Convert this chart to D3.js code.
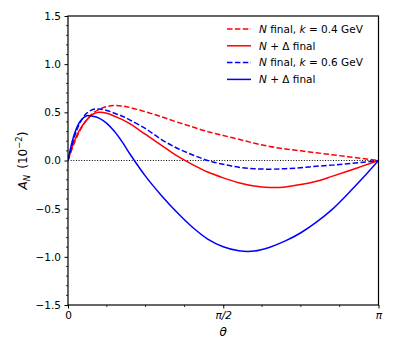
<!DOCTYPE html>
<html>
<head>
<meta charset="utf-8">
<script src="https://cdn.jsdelivr.net/npm/d3@7"></script>
<style>
  body { margin: 0; background: #fff; }
  text { font-family: "DejaVu Sans", sans-serif; }
</style>
</head>
<body>
<svg id="chart" width="395" height="355"></svg>
<script>
// theta as a fraction of pi
const thetaFrac = [0, 0.02, 0.04, 0.06, 0.08, 0.1, 0.125, 0.15, 0.175, 0.2, 0.25, 0.3, 0.35, 0.4, 0.45, 0.5, 0.55, 0.6, 0.65, 0.7, 0.75, 0.8, 0.85, 0.9, 0.95, 1]

const nFinal04 = [0, 0.18, 0.32, 0.42, 0.49, 0.53, 0.56, 0.57, 0.565, 0.55, 0.505, 0.455, 0.40, 0.35, 0.30, 0.26, 0.22, 0.18, 0.145, 0.12, 0.10, 0.08, 0.06, 0.04, 0.02, 0]
const nDelta04 = [0, 0.2, 0.33, 0.42, 0.48, 0.50, 0.49, 0.46, 0.425, 0.38, 0.27, 0.16, 0.05, -0.04, -0.12, -0.18, -0.23, -0.265, -0.28, -0.275, -0.25, -0.215, -0.165, -0.112, -0.056, 0]
const nFinal06 = [0, 0.24, 0.40, 0.49, 0.53, 0.535, 0.52, 0.49, 0.46, 0.42, 0.33, 0.22, 0.13, 0.06, 0.0, -0.04, -0.07, -0.085, -0.09, -0.085, -0.075, -0.06, -0.048, -0.035, -0.018, 0]
const nDelta06 = [0, 0.27, 0.41, 0.465, 0.46, 0.44, 0.385, 0.30, 0.19, 0.065, -0.165, -0.36, -0.535, -0.69, -0.815, -0.895, -0.937, -0.94, -0.9, -0.835, -0.75, -0.64, -0.51, -0.35, -0.18, 0]

const yTicks = [-1.5, -1.0, -0.5, 0.0, 0.5, 1.0, 1.5]
const xTicks = [0, Math.PI / 2, Math.PI]
const xTickLabels = ['0', 'π/2', 'π']

const series = [
  { name: 'N final, k = 0.4 GeV', values: nFinal04, color: '#ff0000', dashed: true },
  { name: 'N + Δ final', values: nDelta04, color: '#ff0000', dashed: false },
  { name: 'N final, k = 0.6 GeV', values: nFinal06, color: '#0000ff', dashed: true },
  { name: 'N + Δ final', values: nDelta06, color: '#0000ff', dashed: false }
]

const margin = { left: 68, right: 16.5, top: 16, bottom: 50 }
const width = 395
const height = 355

const svg = d3.select('#chart')

const x = d3.scaleLinear().domain([0, Math.PI]).range([margin.left, width - margin.right])
const y = d3.scaleLinear().domain([-1.5, 1.5]).range([height - margin.bottom, margin.top])

// zero line
svg.append('line')
  .attr('x1', x(0)).attr('x2', x(Math.PI))
  .attr('y1', y(0)).attr('y2', y(0))
  .attr('stroke', '#000')
  .attr('stroke-width', 1)
  .attr('stroke-dasharray', '1,1.65')

const line = d3.line()
  .x((d, i) => x(thetaFrac[i] * Math.PI))
  .y(d => y(d))
  .curve(d3.curveCatmullRom.alpha(0.5))

svg.append('defs').append('clipPath').attr('id', 'clip')
  .append('rect')
  .attr('x', margin.left).attr('y', margin.top)
  .attr('width', width - margin.left - margin.right)
  .attr('height', height - margin.top - margin.bottom)

svg.append('g').attr('clip-path', 'url(#clip)')
  .selectAll('path')
  .data(series)
  .enter()
  .append('path')
  .attr('d', d => line(d.values))
  .attr('fill', 'none')
  .attr('stroke', d => d.color)
  .attr('stroke-width', 1.5)
  .attr('stroke-dasharray', d => d.dashed ? '5.5,2.4' : null)

// axes
const yAxis = d3.axisLeft(y)
  .tickValues(yTicks)
  .tickFormat(d => d3.format('.1f')(d).replace('-', '−'))
  .tickSize(3.5)
  .tickPadding(3.5)

const xAxis = d3.axisBottom(x)
  .tickValues(xTicks)
  .tickFormat((d, i) => xTickLabels[i])
  .tickSize(3.5)
  .tickPadding(3.5)

const gy = svg.append('g').attr('transform', `translate(${margin.left},0)`).call(yAxis)
const gx = svg.append('g').attr('transform', `translate(0,${height - margin.bottom})`).call(xAxis)

// minor ticks
const yMinor = d3.range(-1.5, 1.5001, 0.1).filter(v => !yTicks.some(t => Math.abs(t - v) < 1e-6))
svg.append('g').selectAll('line')
  .data(yMinor)
  .enter()
  .append('line')
  .attr('x1', margin.left - 2).attr('x2', margin.left)
  .attr('y1', d => y(d)).attr('y2', d => y(d))
  .attr('stroke', '#000').attr('stroke-width', 0.8)

const xMinor = d3.range(1, 8).filter(k => k !== 4).map(k => k * Math.PI / 8)
svg.append('g').selectAll('line')
  .data(xMinor)
  .enter()
  .append('line')
  .attr('x1', d => x(d)).attr('x2', d => x(d))
  .attr('y1', height - margin.bottom).attr('y2', height - margin.bottom + 2)
  .attr('stroke', '#000').attr('stroke-width', 0.8)

for (const g of [gx, gy]) {
  g.select('.domain').remove()
  g.selectAll('.tick line').attr('stroke', '#000').attr('stroke-width', 1)
  g.selectAll('.tick text').attr('font-size', 10.5).attr('fill', '#000')
    .attr('font-family', '"DejaVu Sans", sans-serif')
}
gx.selectAll('.tick text').attr('font-style', (d, i) => i > 0 ? 'italic' : null)

// frame
svg.append('rect')
  .attr('x', margin.left).attr('y', margin.top)
  .attr('width', width - margin.left - margin.right)
  .attr('height', height - margin.top - margin.bottom)
  .attr('fill', 'none')
  .attr('stroke', '#000')
  .attr('stroke-width', 1.2)

// axis labels
svg.append('text')
  .attr('x', x(Math.PI / 2)).attr('y', 336)
  .attr('text-anchor', 'middle')
  .attr('font-size', 12)
  .attr('font-style', 'italic')
  .text('θ')

const yl = svg.append('text')
  .attr('transform', `translate(27,${y(0)}) rotate(-90)`)
  .attr('text-anchor', 'middle')
  .attr('font-size', 12)
yl.append('tspan').attr('font-style', 'italic').text('A')
yl.append('tspan').attr('font-style', 'italic').attr('font-size', 8.5).attr('dy', 3).text('N')
yl.append('tspan').attr('dy', -3).text('\u2002(10')
yl.append('tspan').attr('font-size', 8.5).attr('dy', -5).text('−2')
yl.append('tspan').attr('dy', 5).text(')')

// legend
const legend = svg.append('g').attr('class', 'legend')
series.forEach((s, i) => {
  const ly = 29 + i * 16.8
  legend.append('line')
    .attr('x1', 227).attr('x2', 251)
    .attr('y1', ly).attr('y2', ly)
    .attr('stroke', s.color)
    .attr('stroke-width', 1.5)
    .attr('stroke-dasharray', s.dashed ? '5.5,2.4' : null)
  const t = legend.append('text')
    .attr('x', 259).attr('y', ly + 3.8)
    .attr('font-size', 10.5)
  if (s.dashed) {
    t.append('tspan').attr('font-style', 'italic').text('N')
    t.append('tspan').text(' final, ')
    t.append('tspan').attr('font-style', 'italic').text('k')
    t.append('tspan').text(s.name.slice(s.name.indexOf('=') - 1))
  } else {
    t.append('tspan').attr('font-style', 'italic').text('N')
    t.append('tspan').text(' + Δ final')
  }
})
</script>
</body>
</html>
